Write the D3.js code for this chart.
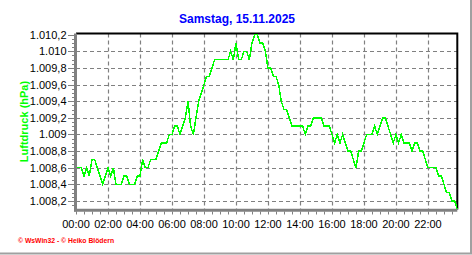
<!DOCTYPE html>
<html>
<head>
<meta charset="utf-8">
<script src="https://cdn.jsdelivr.net/npm/d3@7"></script>
<style>
  body { margin: 0; background: #fff; }
  svg { display: block; font-family: Arial, "Liberation Sans", sans-serif; }
</style>
</head>
<body>
<svg id="chart"></svg>
<script>
// Chart data: air pressure every 10 minutes, 00:00 .. 23:50
const stepMinutes = 10;
const pressure = [
  1008.6, 1008.6, 1008.6, 1008.5, 1008.6, 1008.5, // 00:00
  1008.7, 1008.7, 1008.6, 1008.5, 1008.4, 1008.5, // 01:00
  1008.6, 1008.5, 1008.6, 1008.4, 1008.4, 1008.4, // 02:00
  1008.5, 1008.5, 1008.4, 1008.4, 1008.4, 1008.5, // 03:00
  1008.5, 1008.7, 1008.6, 1008.6, 1008.7, 1008.7, // 04:00
  1008.7, 1008.8, 1008.9, 1008.9, 1008.9, 1009.0, // 05:00
  1009.0, 1009.1, 1009.1, 1009.0, 1009.1, 1009.2, // 06:00
  1009.4, 1009.1, 1009.0, 1009.2, 1009.4, 1009.5, // 07:00
  1009.6, 1009.7, 1009.7, 1009.8, 1009.9, 1009.9, // 08:00
  1009.9, 1009.9, 1009.9, 1009.9, 1010.0, 1009.9, // 09:00
  1010.1, 1009.9, 1009.9, 1010.0, 1010.0, 1009.9, // 10:00
  1010.1, 1010.2, 1010.2, 1010.1, 1010.1, 1010.0, // 11:00
  1009.8, 1009.8, 1009.7, 1009.7, 1009.6, 1009.4, // 12:00
  1009.3, 1009.3, 1009.2, 1009.1, 1009.1, 1009.1, // 13:00
  1009.1, 1009.1, 1009.0, 1009.1, 1009.1, 1009.2, // 14:00
  1009.2, 1009.2, 1009.2, 1009.1, 1009.1, 1009.1, // 15:00
  1009.0, 1008.9, 1009.0, 1008.9, 1009.0, 1008.9, // 16:00
  1008.8, 1008.8, 1008.7, 1008.6, 1008.8, 1008.8, // 17:00
  1008.9, 1009.0, 1009.0, 1009.0, 1009.1, 1009.0, // 18:00
  1009.1, 1009.2, 1009.2, 1009.1, 1009.0, 1008.9, // 19:00
  1009.0, 1008.9, 1009.0, 1008.9, 1008.9, 1008.9, // 20:00
  1008.8, 1008.9, 1008.9, 1008.8, 1008.8, 1008.7, // 21:00
  1008.6, 1008.6, 1008.6, 1008.6, 1008.5, 1008.5, // 22:00
  1008.4, 1008.3, 1008.3, 1008.2, 1008.2, 1008.1  // 23:00
];

// Axis ticks
const yTicks = [1008.2, 1008.4, 1008.6, 1008.8, 1009.0, 1009.2, 1009.4, 1009.6, 1009.8, 1010.0, 1010.2];
const yTickLabels = ["1.008,2", "1.008,4", "1.008,6", "1.008,8", "1.009", "1.009,2", "1.009,4", "1.009,6", "1.009,8", "1.010", "1.010,2"];
const xTicks = [0, 120, 240, 360, 480, 600, 720, 840, 960, 1080, 1200, 1320];
const xTickLabels = ["00:00", "02:00", "04:00", "06:00", "08:00", "10:00", "12:00", "14:00", "16:00", "18:00", "20:00", "22:00"];

const titleText = "Samstag, 15.11.2025";
const yLabelText = "Luftdruck (hPa)";
const footerText = "\u00a9 WsWin32 - \u00a9 Heiko Blödern";

const W = 472, H = 255;
const plot = { left: 76, right: 457.3, top: 33.5, bottom: 209.5 };

const svg = d3.select("#chart").attr("width", W).attr("height", H);

const data = pressure.map((v, i) => ({ t: i * stepMinutes, v: v }));

const xScale = d3.scaleLinear().domain([0, 1430]).range([plot.left, plot.right]);
const yScale = d3.scaleLinear().domain([1008.1, 1010.2]).range([209.3, 34.7]);

// outer window edges
svg.append("line").attr("x1", 471).attr("x2", 471).attr("y1", 0).attr("y2", 254)
  .attr("stroke", "#a0a0a0").attr("stroke-width", 2);
svg.append("line").attr("x1", 0).attr("x2", 472).attr("y1", 253.5).attr("y2", 253.5)
  .attr("stroke", "#a0a0a0").attr("stroke-width", 2);

// grid
const grid = svg.append("g").attr("stroke", "#808080").attr("stroke-width", 1.2)
  .attr("stroke-dasharray", "4,3");
grid.selectAll(".hgrid").data(yTicks.slice(0, -1)).join("line")
  .attr("x1", plot.left).attr("x2", plot.right)
  .attr("y1", d => Math.round(yScale(d)) + 0.5).attr("y2", d => Math.round(yScale(d)) + 0.5);
grid.selectAll(".vgrid").data(xTicks.slice(1)).join("line")
  .attr("y1", plot.top).attr("y2", plot.bottom)
  .attr("x1", d => Math.round(xScale(d)) + 0.5).attr("x2", d => Math.round(xScale(d)) + 0.5);

// top and right frame
svg.append("path")
  .attr("d", `M${plot.left},${plot.top}H${plot.right}V${plot.bottom}`)
  .attr("fill", "none").attr("stroke", "#000").attr("stroke-width", 2);

// pressure line
const line = d3.line().x(d => xScale(d.t)).y(d => yScale(d.v));
svg.append("path").datum(data)
  .attr("d", line)
  .attr("fill", "none")
  .attr("stroke", "#00ff00")
  .attr("stroke-width", 1.5)
  .attr("shape-rendering", "crispEdges");

// left axis (gray, thick) with ticks
const yAxisG = svg.append("g").attr("stroke", "#808080");
yAxisG.append("line").attr("x1", plot.left - 0.5).attr("x2", plot.left - 0.5)
  .attr("y1", plot.top).attr("y2", plot.bottom + 2).attr("stroke-width", 3);
yAxisG.selectAll(".ymin").data(d3.range(1008.15, 1010.2, 0.05)).join("line")
  .attr("x1", plot.left - 4).attr("x2", plot.left)
  .attr("y1", d => Math.round(yScale(d)) + 0.5).attr("y2", d => Math.round(yScale(d)) + 0.5)
  .attr("stroke-width", 1);
yAxisG.selectAll(".ymaj").data(yTicks).join("line")
  .attr("x1", plot.left - 8).attr("x2", plot.left)
  .attr("y1", d => Math.round(yScale(d)) + 0.5).attr("y2", d => Math.round(yScale(d)) + 0.5)
  .attr("stroke-width", 1);

// bottom axis (gray, thick) with ticks
const xAxisG = svg.append("g").attr("stroke", "#808080");
xAxisG.append("line").attr("x1", plot.left - 2).attr("x2", plot.right)
  .attr("y1", plot.bottom + 0.8).attr("y2", plot.bottom + 0.8).attr("stroke-width", 3);
xAxisG.selectAll(".xmin").data(d3.range(0, 1440, 30)).join("line")
  .attr("x1", d => Math.round(xScale(d)) + 0.5).attr("x2", d => Math.round(xScale(d)) + 0.5)
  .attr("y1", plot.bottom + 2).attr("y2", plot.bottom + 5)
  .attr("stroke-width", 1);

// tick labels
svg.append("g").selectAll("text").data(yTicks).join("text")
  .attr("x", 66.5).attr("y", d => yScale(d) + 4)
  .attr("text-anchor", "end").attr("font-size", 11).attr("fill", "#000")
  .text((d, i) => yTickLabels[i]);
svg.append("g").selectAll("text").data(xTicks).join("text")
  .attr("x", d => xScale(d)).attr("y", 227.5)
  .attr("text-anchor", "middle").attr("font-size", 11).attr("fill", "#000")
  .text((d, i) => xTickLabels[i]);

// title
svg.append("text").attr("x", 237).attr("y", 23)
  .attr("text-anchor", "middle").attr("font-size", 12).attr("font-weight", "bold")
  .attr("fill", "#0000ff").text(titleText);

// y axis label
svg.append("text")
  .attr("transform", `translate(28,${(plot.top + plot.bottom) / 2}) rotate(-90)`)
  .attr("text-anchor", "middle").attr("font-size", 11).attr("font-weight", "bold")
  .attr("fill", "#00ff00").text(yLabelText);

// footer
svg.append("text").attr("x", 18).attr("y", 242.5)
  .attr("font-size", 6.8).attr("font-weight", "bold").attr("fill", "#ff0000")
  .text(footerText);
</script>
</body>
</html>
